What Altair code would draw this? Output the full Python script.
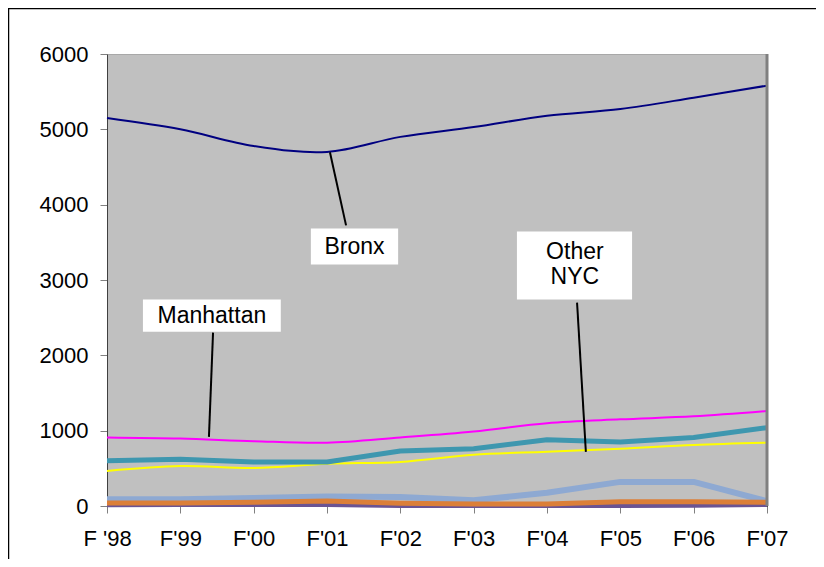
import json
import altair as alt
import pandas as pd

labels = ["F '98", "F'99", "F'00", "F'01", "F'02", "F'03", "F'04", "F'05", "F'06", "F'07"]

bronx     = [5150, 5000, 4780, 4700, 4900, 5030, 5180, 5270, 5420, 5580]
manhattan = [910, 895, 860, 840, 910, 990, 1100, 1150, 1190, 1260]
teal      = [600, 620, 585, 585, 730, 760, 880, 850, 910, 1040]
yellow    = [465, 530, 505, 560, 585, 680, 720, 760, 810, 840]
lightblue = [90, 90, 105, 125, 120, 75, 175, 320, 320, 65]
orange    = [40, 40, 50, 65, 35, 25, 25, 55, 55, 50]
purple    = [15, 20, 20, 20, 5, 5, 5, 5, 10, 20]

series = [
    ("purple", purple, "#6A5493", 5, "linear"),
    ("lightblue", lightblue, "#8EA9D2", 6, "linear"),
    ("orange", orange, "#DB7F38", 5, "linear"),
    ("yellow", yellow, "#FFFF00", 2, "catmull-rom"),
    ("teal", teal, "#3E97AF", 5, "linear"),
    ("manhattan", manhattan, "#FF00FF", 2, "catmull-rom"),
    ("bronx", bronx, "#000080", 2, "catmull-rom"),
]

# annotation boxes (data units: x index, y value)
box_names = ["Bronx", "Other NYC", "Manhattan"]
box_x = [2.78, 5.59, 0.49]
box_x2 = [3.97, 7.16, 2.37]
box_y = [3685, 3645, 2740]
box_y2 = [3206, 2740, 2314]

text_lines = ["Bronx", "Other", "NYC", "Manhattan"]
text_x = [3.375, 6.38, 6.38, 1.43]
text_y = [3440, 3375, 3040, 2520]

lead_x = [3.04, 6.41, 1.446]
lead_x2 = [3.26, 6.53, 1.39]
lead_y = [4696, 2700, 2301]
lead_y2 = [3725, 718, 918]

FONT = "Liberation Sans"
label_expr = json.dumps(labels) + "[datum.value]"

xscale = alt.Scale(domain=[0, 9], nice=False, zero=False)
yscale = alt.Scale(domain=[0, 6000], nice=False)

x_axis = alt.Axis(values=list(range(10)), labelExpr=label_expr, title=None, grid=False,
                  labelFontSize=22, labelFont=FONT, labelColor="black", tickSize=7,
                  tickColor="#808080", domainColor="#000000", labelPadding=15,
                  labelFlush=False)
y_axis = alt.Axis(values=[0, 1000, 2000, 3000, 4000, 5000, 6000], format="d", title=None,
                  grid=False, labelFontSize=22, labelFont=FONT, labelColor="black",
                  tickSize=7, tickColor="#808080", domainColor="#404040", labelPadding=12)

X = lambda f="x:Q": alt.X(f, scale=xscale, axis=x_axis)
Y = lambda f="y:Q": alt.Y(f, scale=yscale, axis=y_axis)

layers = []
for name, vals, color, w, interp in series:
    df = pd.DataFrame({"x": list(range(10)), "y": vals})
    layers.append(
        alt.Chart(df).mark_line(color=color, strokeWidth=w, interpolate=interp,
                                strokeJoin="round").encode(x=X(), y=Y())
    )

# right plot border (dark gray)
border = alt.Chart(pd.DataFrame({"x": [9], "y": [0], "y2": [6000]})).mark_rule(
    color="#808080", strokeWidth=3).encode(x=X(), y=Y(), y2="y2:Q")

lead_df = pd.DataFrame({"x": lead_x, "x2": lead_x2, "y": lead_y, "y2": lead_y2})
leaders = alt.Chart(lead_df).mark_rule(color="black", strokeWidth=2).encode(
    x=X(), x2="x2:Q", y=Y(), y2="y2:Q")

box_df = pd.DataFrame({"name": box_names, "x": box_x, "x2": box_x2, "y": box_y, "y2": box_y2})
boxes = alt.Chart(box_df).mark_rect(color="white").encode(
    x=X(), x2="x2:Q", y=Y(), y2="y2:Q")

text_df = pd.DataFrame({"t": text_lines, "x": text_x, "y": text_y})
texts = alt.Chart(text_df).mark_text(font=FONT, fontSize=23, color="black",
                                     baseline="middle", align="center").encode(
    x=X(), y=Y(), text="t:N")

# outer frame of the whole figure
frame = alt.Chart(pd.DataFrame({"a": [0]})).mark_rect(
    fill=None, stroke="black", strokeWidth=1.5, clip=False).encode(
    x=alt.value(-98.5), x2=alt.value(760), y=alt.value(-45.5), y2=alt.value(560))

chart = alt.layer(*layers, border, leaders, boxes, texts, frame).properties(
    width=660, height=452,
    autosize=alt.AutoSizeParams(type="none"),
    padding={"left": 99, "top": 46, "right": 49, "bottom": 53},
    background="white",
).configure_view(
    fill="#C0C0C0", stroke="#A8A8A8", strokeWidth=1
)

chart.save("out.html", embed_options={"renderer": "svg", "actions": False})
